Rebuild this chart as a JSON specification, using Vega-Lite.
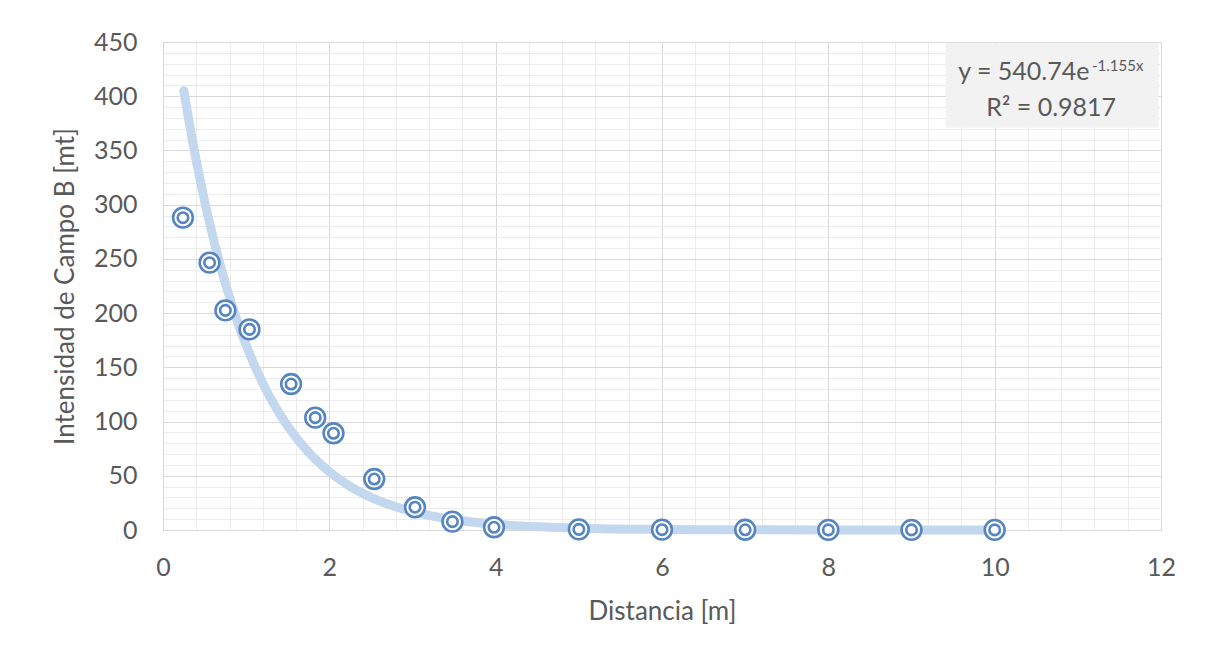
{
  "$schema": "https://vega.github.io/schema/vega-lite/v6.json",
  "width": 998,
  "height": 488,
  "autosize": "none",
  "padding": {"left": 163, "top": 42, "right": 45, "bottom": 135},
  "background": "white",
  "config": {
    "view": {"stroke": null},
    "font": "Lato",
    "axis": {
      "labelFont": "Lato",
      "titleFont": "Lato",
      "labelColor": "#595959",
      "titleColor": "#595959",
      "labelFontSize": 25,
      "titleFontSize": 26,
      "titleFontWeight": "normal",
      "labelFlush": false,
      "ticks": false
    }
  },
  "datasets": {
    "medido": [
      {"distancia": 0.24, "campo": 288},
      {"distancia": 0.56, "campo": 246.5},
      {"distancia": 0.75, "campo": 202.5},
      {"distancia": 1.04, "campo": 185},
      {"distancia": 1.54, "campo": 134.6},
      {"distancia": 1.83, "campo": 103.6},
      {"distancia": 2.05, "campo": 89.2},
      {"distancia": 2.54, "campo": 47},
      {"distancia": 3.03, "campo": 21},
      {"distancia": 3.48, "campo": 7.7},
      {"distancia": 3.98, "campo": 2.5},
      {"distancia": 5, "campo": 0.6},
      {"distancia": 6, "campo": 0.3},
      {"distancia": 7, "campo": 0.2},
      {"distancia": 8, "campo": 0.1},
      {"distancia": 9, "campo": 0.1},
      {"distancia": 10, "campo": 0.1}
    ],
    "tendencia": [
      {"distancia": 0.25, "campo": 405.1},
      {"distancia": 0.3, "campo": 382.4},
      {"distancia": 0.4, "campo": 340.7},
      {"distancia": 0.5, "campo": 303.5},
      {"distancia": 0.6, "campo": 270.4},
      {"distancia": 0.7, "campo": 240.9},
      {"distancia": 0.8, "campo": 214.6},
      {"distancia": 0.9, "campo": 191.2},
      {"distancia": 1.0, "campo": 170.4},
      {"distancia": 1.2, "campo": 135.2},
      {"distancia": 1.4, "campo": 107.4},
      {"distancia": 1.6, "campo": 85.2},
      {"distancia": 1.8, "campo": 67.6},
      {"distancia": 2.0, "campo": 53.7},
      {"distancia": 2.25, "campo": 40.2},
      {"distancia": 2.5, "campo": 30.1},
      {"distancia": 2.75, "campo": 22.6},
      {"distancia": 3.0, "campo": 16.9},
      {"distancia": 3.5, "campo": 9.49},
      {"distancia": 4.0, "campo": 5.33},
      {"distancia": 4.5, "campo": 2.99},
      {"distancia": 5.0, "campo": 1.68},
      {"distancia": 6.0, "campo": 0.53},
      {"distancia": 7.0, "campo": 0.17},
      {"distancia": 8.0, "campo": 0.05},
      {"distancia": 10.0, "campo": 0.005}
    ],
    "anotacion": [{}]
  },
  "resolve": {"axis": {"x": "independent", "y": "independent"}},
  "layer": [
    {
      "data": {"name": "tendencia"},
      "mark": {"type": "line", "stroke": "#c3d7ee", "strokeWidth": 9, "strokeCap": "round", "strokeJoin": "round", "interpolate": "monotone"},
      "encoding": {
        "x": {
          "field": "distancia", "type": "quantitative",
          "scale": {"domain": [0, 12], "nice": false, "zero": true},
          "axis": {"orient": "bottom", "values": [0.4,0.8,1.2,1.6,2.4,2.8,3.2,3.6,4.4,4.8,5.2,5.6,6.4,6.8,7.2,7.6,8.4,8.8,9.2,9.6,10.4,10.8,11.2,11.6], "labels": false, "domain": false, "grid": true, "gridColor": "#ececec", "gridWidth": 1, "title": null}
        },
        "y": {
          "field": "campo", "type": "quantitative",
          "scale": {"domain": [0, 450], "nice": false},
          "axis": {"orient": "left", "values": [10,20,30,40,60,70,80,90,110,120,130,140,160,170,180,190,210,220,230,240,260,270,280,290,310,320,330,340,360,370,380,390,410,420,430,440], "labels": false, "domain": false, "grid": true, "gridColor": "#ececec", "gridWidth": 1, "title": null}
        }
      }
    },
    {
      "data": {"name": "anotacion"},
      "mark": {"type": "rect", "fill": "#f2f2f2"},
      "encoding": {
        "x": {"datum": 9.41, "type": "quantitative", "axis": null},
        "x2": {"datum": 11.97},
        "y": {"datum": 448.6, "type": "quantitative", "axis": null},
        "y2": {"datum": 371}
      }
    },
    {
      "data": {"name": "medido"},
      "mark": {"type": "circle", "size": 390, "fill": "white", "fillOpacity": 1, "stroke": "#5585c2", "strokeWidth": 2.6, "opacity": 1},
      "encoding": {
        "x": {
          "field": "distancia", "type": "quantitative",
          "axis": {"orient": "bottom", "values": [0,2,4,6,8,10,12], "grid": true, "gridColor": "#d9d9d9", "domain": true, "domainColor": "#d9d9d9", "labelPadding": 25, "title": "Distancia [m]", "titlePadding": 18}
        },
        "y": {
          "field": "campo", "type": "quantitative",
          "axis": {"orient": "left", "values": [0,50,100,150,200,250,300,350,400,450], "grid": true, "gridColor": "#d9d9d9", "domain": true, "domainColor": "#d9d9d9", "labelPadding": 26, "title": "Intensidad de Campo B [mt]", "titlePadding": 15}
        }
      }
    },
    {
      "data": {"name": "medido"},
      "mark": {"type": "circle", "size": 110, "fill": "white", "fillOpacity": 1, "stroke": "#5585c2", "strokeWidth": 2.6, "opacity": 1},
      "encoding": {
        "x": {"field": "distancia", "type": "quantitative", "axis": null},
        "y": {"field": "campo", "type": "quantitative", "axis": null}
      }
    },
    {
      "data": {"name": "anotacion"},
      "mark": {"type": "text", "text": "y = 540.74e", "align": "right", "baseline": "middle", "fontSize": 25, "color": "#595959", "font": "Lato"},
      "encoding": {
        "x": {"datum": 11.14, "type": "quantitative", "axis": null},
        "y": {"datum": 422.3, "type": "quantitative", "axis": null}
      }
    },
    {
      "data": {"name": "anotacion"},
      "mark": {"type": "text", "text": "-1.155x", "align": "left", "baseline": "middle", "fontSize": 15, "color": "#595959", "font": "Lato"},
      "encoding": {
        "x": {"datum": 11.17, "type": "quantitative", "axis": null},
        "y": {"datum": 428, "type": "quantitative", "axis": null}
      }
    },
    {
      "data": {"name": "anotacion"},
      "mark": {"type": "text", "text": "R² = 0.9817", "align": "center", "baseline": "middle", "fontSize": 25, "color": "#595959", "font": "Lato"},
      "encoding": {
        "x": {"datum": 10.68, "type": "quantitative", "axis": null},
        "y": {"datum": 389, "type": "quantitative", "axis": null}
      }
    }
  ]
}
